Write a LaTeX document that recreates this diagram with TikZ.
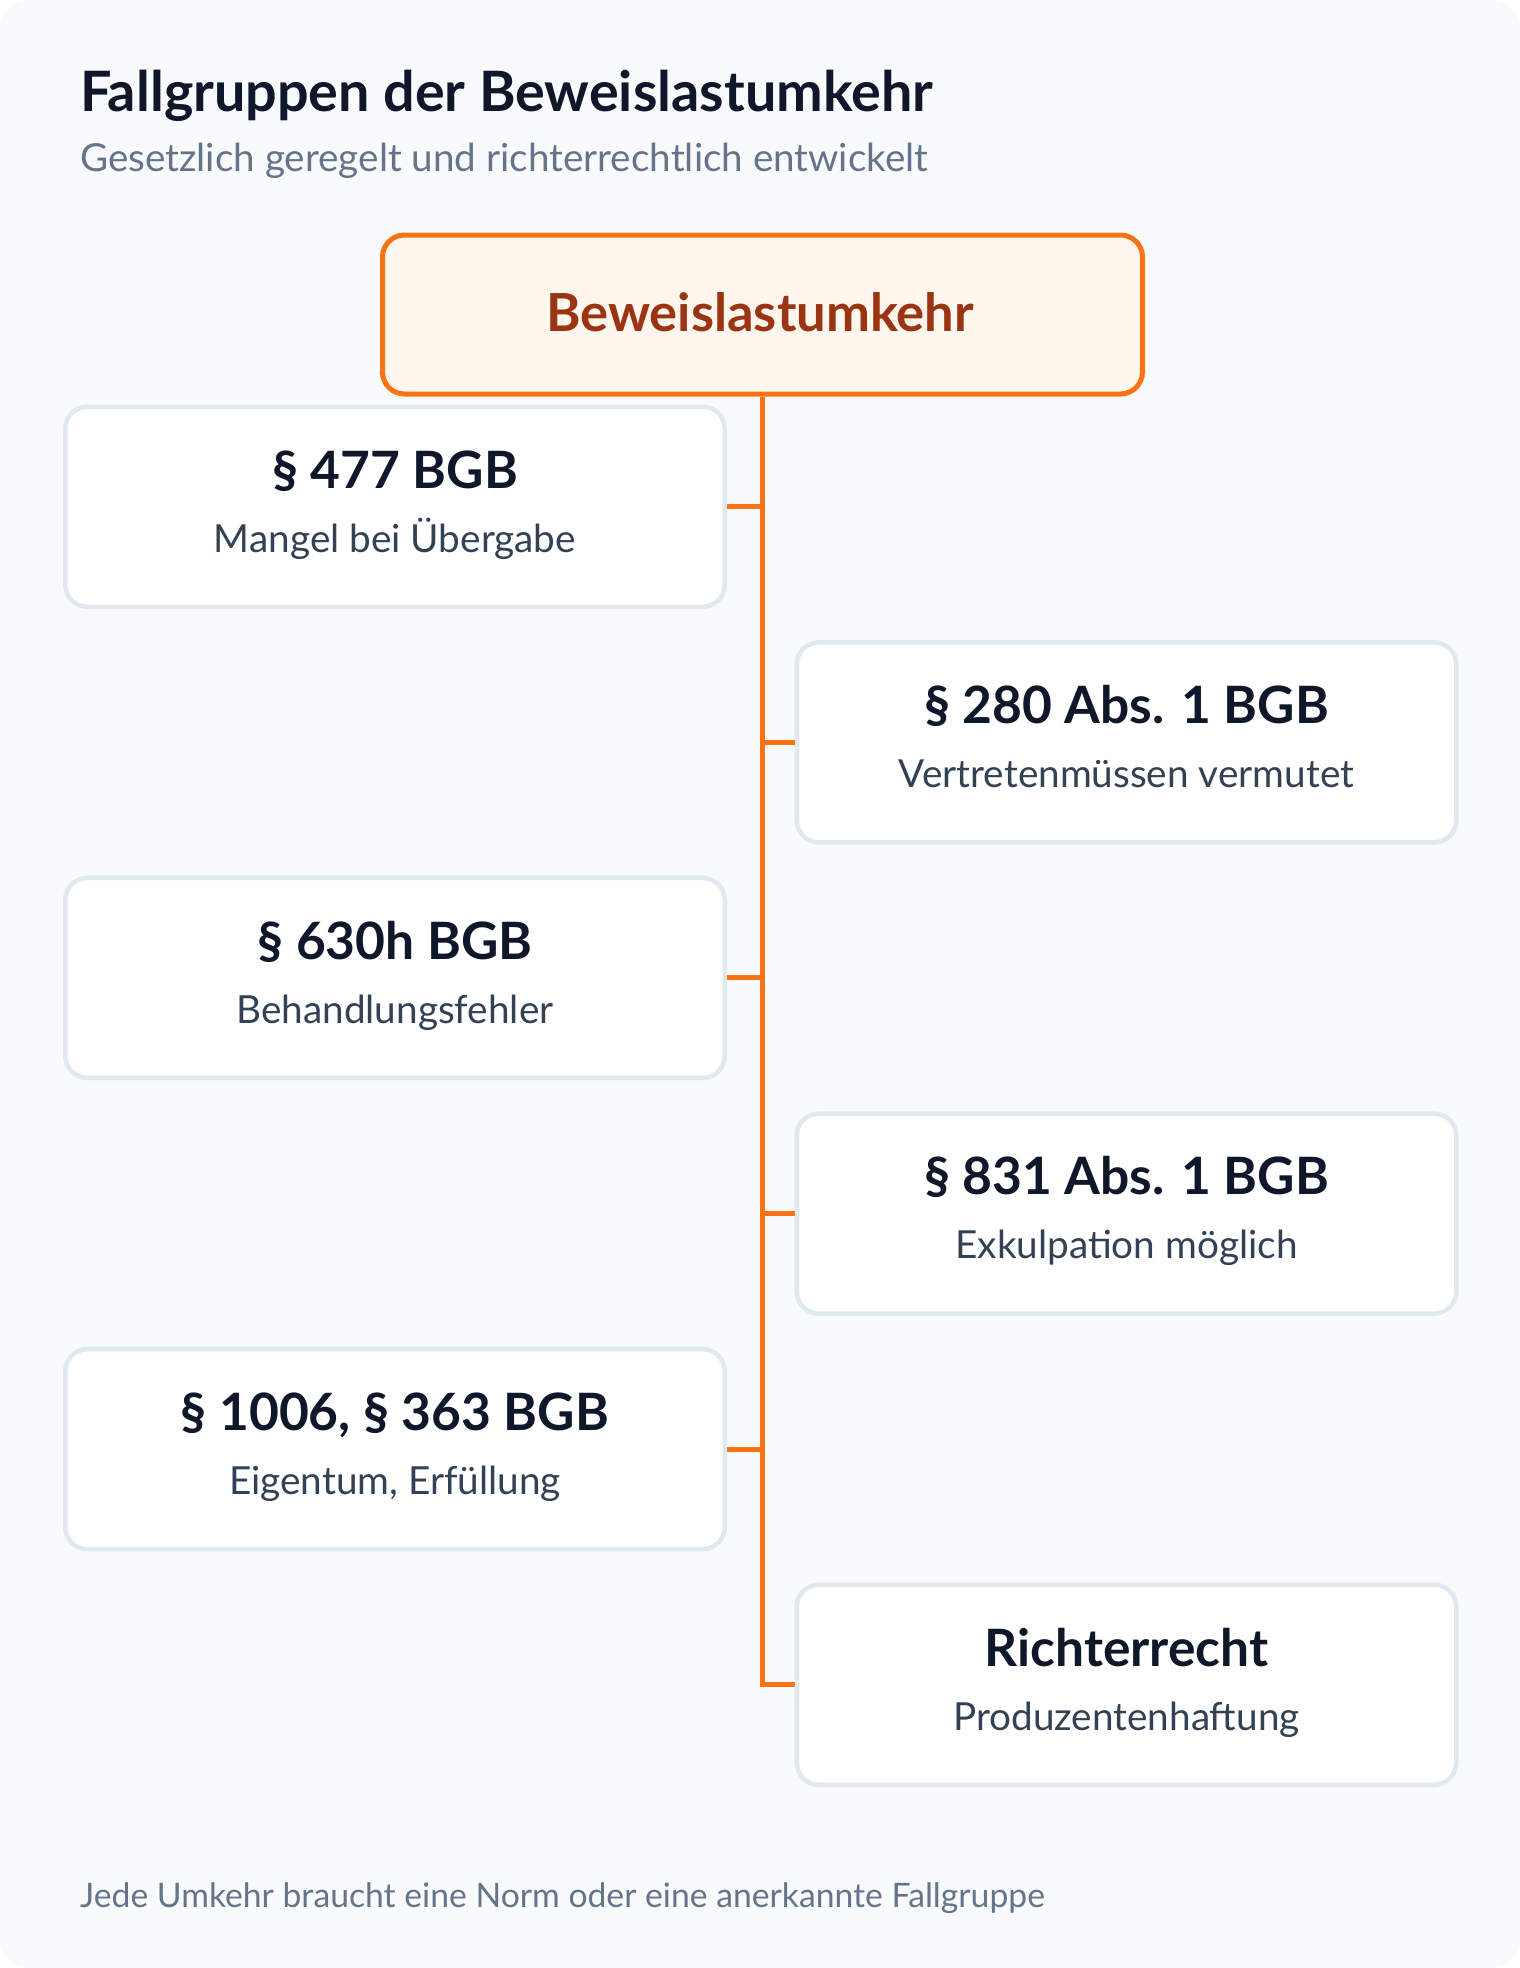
\documentclass[tikz,border=0pt]{standalone}
\usepackage{fontspec}
\setmainfont{Lato}
\usetikzlibrary{calc}
\definecolor{bgc}{HTML}{F8FAFC}
\definecolor{titlec}{HTML}{0F172A}
\definecolor{mutedc}{HTML}{64748B}
\definecolor{subc}{HTML}{334155}
\definecolor{orangec}{HTML}{F97316}
\definecolor{rootfill}{HTML}{FFF7ED}
\definecolor{roottext}{HTML}{9A3412}
\definecolor{boxborder}{HTML}{E2E8F0}
\tikzset{
  cardbox/.style={draw=boxborder, line width=4.5pt, fill=white, rounded corners=22pt, minimum width=659.5pt, minimum height=200pt, anchor=north west, inner sep=0pt},
  headtext/.style={font=\fontsize{51.5}{60}\selectfont\bfseries, text=titlec, anchor=base, inner sep=0pt},
  subtext/.style={font=\fontsize{38.7}{44}\selectfont, text=subc, anchor=base, inner sep=0pt},
  branch/.style={draw=orangec, line width=5pt},
}
\begin{document}
\begin{tikzpicture}[x=1pt,y=-1pt]
\useasboundingbox (0,0) rectangle (1520,1968);
\fill[white] (0,0) rectangle (1520,1968);
\fill[bgc, rounded corners=28pt] (0,0) rectangle (1520,1968);
\node[anchor=base west, inner sep=0pt, font=\fontsize{55.7}{62}\selectfont\bfseries, text=titlec] (title) at (80,111) {Fallgruppen der Beweislastumkehr};
\node[anchor=base west, inner sep=0pt, font=\fontsize{38.6}{44}\selectfont, text=mutedc] (subtitle) at (80,171) {Gesetzlich geregelt und richterrechtlich entwickelt};
\node[draw=orangec, line width=5pt, fill=rootfill, rounded corners=22pt, minimum width=760pt, minimum height=159pt, anchor=north west, inner sep=0pt] (root) at (380,232.5) {};
\node[font=\fontsize{52.5}{60}\selectfont\bfseries, text=roottext, anchor=base, inner sep=0pt] (roottxt) at (760,331) {Beweislastumkehr};
% boxes
\foreach \i/\x/\y/\h/\s in {
  b1/63/404.5/{§ 477 BGB}/{Mangel bei Übergabe},
  b2/794.5/640.1/{§ 280 Abs. 1 BGB}/{Vertretenmüssen vermutet},
  b3/63/875.7/{§ 630h BGB}/{Behandlungsfehler},
  b4/794.5/1111.3/{§ 831 Abs. 1 BGB}/{Exkulpation möglich},
  b5/63/1346.9/{§ 1006, § 363 BGB}/{Eigentum, Erfüllung},
  b6/794.5/1582.5/{Richterrecht}/{Produzentenhaftung}}{
  \node[cardbox] (\i) at (\x,\y) {};
  \node[headtext] (\i h) at ($(\i.north)+(0,83.5)$) {\h};
  \node[subtext] (\i s) at ($(\i.north)+(0,147.5)$) {\s};
}
\coordinate (tend) at (root.south |- b6.west);
\draw[branch] (root.south) -- (tend) -- (b6.west);
\draw[branch] (b1.east) -- (b1.east -| root.south);
\draw[branch] (b2.west) -- (b2.west -| root.south);
\draw[branch] (b3.east) -- (b3.east -| root.south);
\draw[branch] (b4.west) -- (b4.west -| root.south);
\draw[branch] (b5.east) -- (b5.east -| root.south);
\node[anchor=base west, inner sep=0pt, font=\fontsize{33.7}{40}\selectfont, text=mutedc] (footer) at (80,1907) {Jede Umkehr braucht eine Norm oder eine anerkannte Fallgruppe};
\end{tikzpicture}
\end{document}
